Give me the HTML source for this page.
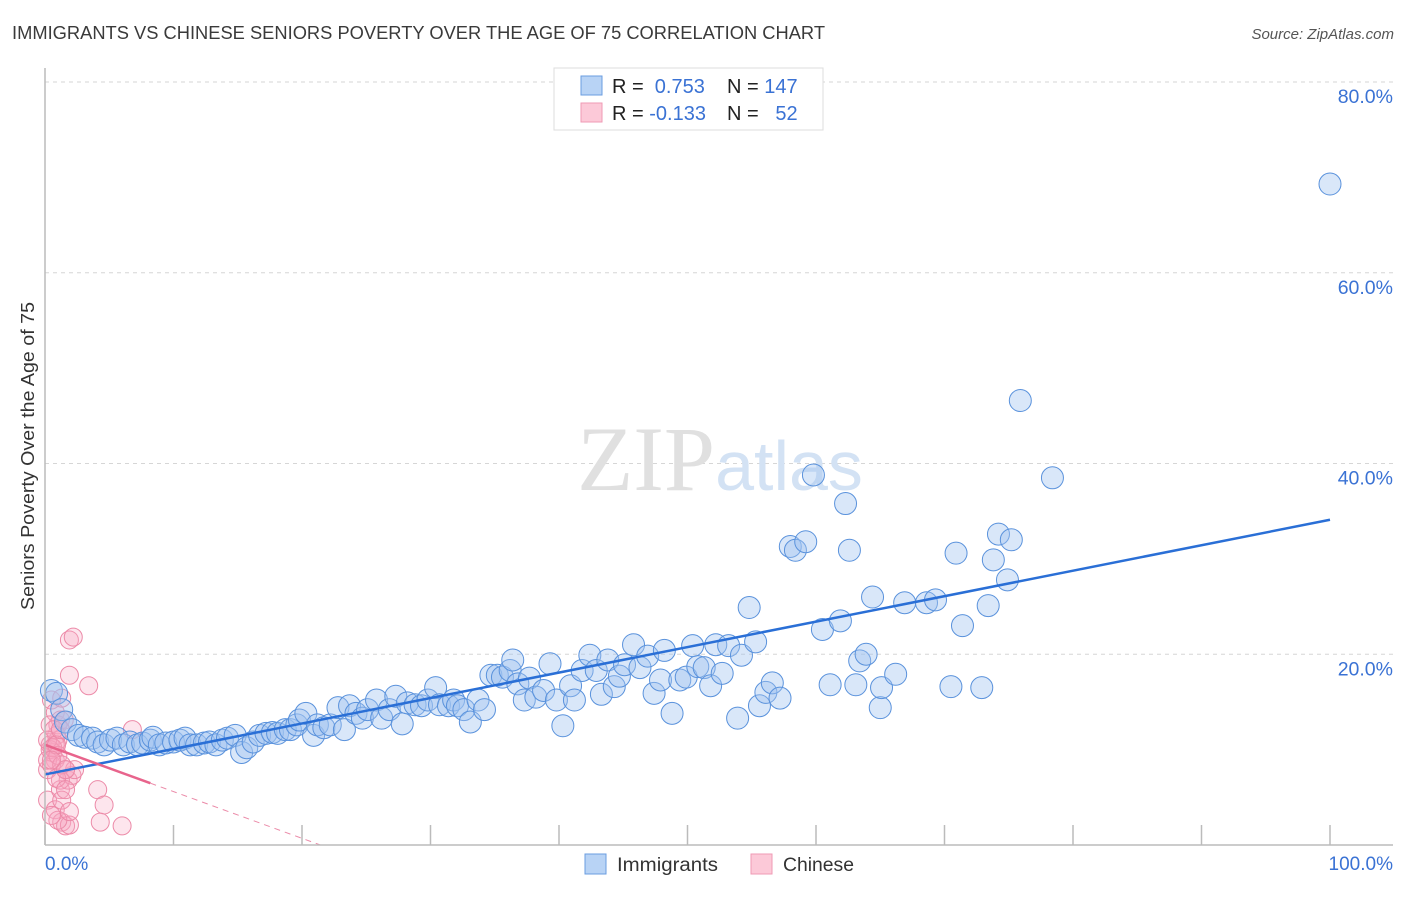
<!DOCTYPE html>
<html><head><meta charset="utf-8">
<style>
body{margin:0;background:#fff;font-family:"Liberation Sans",sans-serif;}
svg text{font-family:"Liberation Sans",sans-serif;}
</style></head>
<body>
<svg id="chart" width="1406" height="892" xmlns="http://www.w3.org/2000/svg">
<text x="12" y="39" font-size="18" fill="#3a3a3a" textLength="813" lengthAdjust="spacingAndGlyphs">IMMIGRANTS VS CHINESE SENIORS POVERTY OVER THE AGE OF 75 CORRELATION CHART</text>
<text x="1394" y="39" font-size="15" fill="#555" font-style="italic" text-anchor="end">Source: ZipAtlas.com</text>
<g id="grid"></g>
<text x="720" y="490" font-size="92" text-anchor="middle" fill="#e2e2e2" font-family="Liberation Serif"><tspan fill="#e0e0e0" font-family="Liberation Serif">ZIP</tspan><tspan fill="#d3e2f4" font-family="Liberation Sans" font-size="70">atlas</tspan></text>
<g id="pink"></g>
<g id="blue"></g>
<g id="lines"></g>
<g id="axes"></g>
<text transform="translate(34,456) rotate(-90)" font-size="18" fill="#333" text-anchor="middle" textLength="308" lengthAdjust="spacingAndGlyphs">Seniors Poverty Over the Age of 75</text>
<g>
<rect x="554" y="68" width="269" height="62" fill="#fff" stroke="#ddd"/>
<rect x="581" y="76" width="21" height="19" fill="#b8d3f5" stroke="#6a9de0"/>
<rect x="581" y="103" width="21" height="19" fill="#fcc9d8" stroke="#ef9ab4"/>
<text x="612" y="93" font-size="20" fill="#222">R = <tspan fill="#3a72d4">&#160;0.753</tspan></text>
<text x="727" y="93" font-size="20" fill="#222">N = <tspan fill="#3a72d4">147</tspan></text>
<text x="612" y="120" font-size="20" fill="#222">R = <tspan fill="#3a72d4">-0.133</tspan></text>
<text x="727" y="120" font-size="20" fill="#222">N = <tspan fill="#3a72d4">&#160;&#160;52</tspan></text>
</g>
<g>
<rect x="585" y="854" width="21" height="20" fill="#b8d3f5" stroke="#6a9de0"/>
<text x="617" y="871" font-size="19" fill="#333" textLength="101" lengthAdjust="spacingAndGlyphs">Immigrants</text>
<rect x="751" y="854" width="21" height="20" fill="#fcc9d8" stroke="#ef9ab4"/>
<text x="783" y="871" font-size="19" fill="#333" textLength="71" lengthAdjust="spacingAndGlyphs">Chinese</text>
</g>
</svg>
<script>
const blueX=[0.5,0.9,1.3,1.6,2.1,2.6,3.1,3.7,4.1,4.6,5.1,5.6,6.1,6.6,7.2,7.6,8.2,8.4,8.9,9.4,10.0,10.5,10.9,11.3,11.8,12.4,12.8,13.3,13.8,14.2,14.8,15.3,15.7,16.2,16.7,17.2,17.7,18.1,18.7,19.1,19.6,19.8,20.3,20.9,21.2,21.7,22.2,22.8,23.3,23.7,24.2,24.7,25.1,25.8,26.2,26.8,27.3,27.8,28.2,28.8,29.3,29.8,30.4,30.7,31.4,31.8,32.1,32.6,33.1,33.7,34.2,34.7,35.2,35.6,36.2,36.4,36.8,37.3,37.7,38.2,38.8,39.3,39.8,40.3,40.9,41.2,41.8,42.4,42.9,43.3,43.8,44.3,44.7,45.1,45.8,46.3,46.9,47.4,47.9,48.2,48.8,49.4,49.9,50.4,50.8,51.3,51.8,52.2,52.7,53.2,53.9,54.2,54.8,55.3,55.6,56.1,56.6,57.2,58.0,58.4,59.2,59.8,60.5,61.1,61.9,62.3,62.6,63.1,63.4,63.9,64.4,65.0,65.1,66.2,66.9,68.6,69.3,70.5,70.9,71.4,72.9,73.4,73.8,74.2,74.9,75.2,75.9,78.4,100];
const blueY=[16.2,15.9,14.2,12.9,12.1,11.5,11.3,11.2,10.8,10.5,11.0,11.2,10.5,10.8,10.5,10.7,11.0,11.3,10.5,10.7,10.8,11.0,11.2,10.5,10.5,10.7,10.8,10.5,11.0,11.2,11.5,9.7,10.2,10.8,11.5,11.7,11.8,11.7,12.1,12.1,12.6,13.1,13.8,11.5,12.6,12.3,12.6,14.4,12.1,14.6,13.8,13.3,14.2,15.2,13.3,14.2,15.6,12.7,14.9,14.7,14.6,15.2,16.5,14.7,14.6,15.2,14.6,14.2,12.9,15.2,14.2,17.8,17.8,17.6,18.3,19.4,16.9,15.2,17.5,15.5,16.2,19.0,15.2,12.5,16.7,15.2,18.3,19.9,18.3,15.8,19.4,16.6,17.7,18.9,21.0,18.6,19.8,15.9,17.3,20.4,13.8,17.3,17.6,20.9,18.7,18.6,16.7,21.0,18.0,20.9,13.3,19.9,24.9,21.3,14.6,16.0,17.0,15.4,31.3,30.9,31.8,38.8,22.6,16.8,23.5,35.8,30.9,16.8,19.3,20.0,26.0,14.4,16.5,17.9,25.4,25.4,25.7,16.6,30.6,23.0,16.5,25.1,29.9,32.6,27.8,32.0,46.6,38.5,69.3];
const pinkX=[0.5,0.8,1.0,0.4,0.6,0.8,0.2,1.0,1.3,1.2,0.9,1.5,1.9,2.2,1.9,3.4,0.2,0.8,1.2,1.3,1.6,1.8,2.1,1.6,1.2,0.8,0.4,0.5,0.9,1.3,1.9,2.3,4.1,4.6,4.3,6.0,6.8,0.2,0.4,0.7,0.2,0.6,1.0,1.3,1.6,1.0,0.5,1.6,0.9,1.2,0.5,1.9];
const pinkY=[15.2,13.9,11.0,10.5,9.7,8.9,7.9,12.6,15.4,13.1,11.5,13.1,21.5,21.8,17.8,16.7,4.7,3.7,5.8,2.4,2.0,6.8,7.3,7.9,6.8,10.5,10.0,8.4,7.0,4.7,2.1,7.9,5.8,4.2,2.4,2.0,12.1,8.9,12.6,12.1,11.0,10.2,9.4,8.4,5.8,2.6,3.1,7.9,10.5,12.1,8.9,3.5];
const blueTrend=[7.4,34.1];
const pinkTrend=[10.5,-0.49];
const pinkSolidEnd=8.2;
const yTicks=[20,40,60,80];
const yTickLabels=["20.0%","40.0%","60.0%","80.0%"];
const xTicks=[0,10,20,30,40,50,60,70,80,90,100];

const NS="http://www.w3.org/2000/svg";
const X0=45,X1=1330,Y0=845,YPER=9.5375;
const sx=v=>X0+(X1-X0)*v/100;
const sy=v=>Y0-v*YPER;
function mk(tag,attrs,parent){const e=document.createElementNS(NS,tag);for(const k in attrs)e.setAttribute(k,attrs[k]);parent.appendChild(e);return e;}
const grid=document.getElementById('grid'),axes=document.getElementById('axes');
yTicks.forEach((t,i)=>{
  const l=mk('line',{x1:X0,x2:1393,y1:sy(t),y2:sy(t),stroke:'#d6d6d6','stroke-dasharray':'4,4'},grid);
  
  
  const tx=mk('text',{x:1393,y:sy(t)+21,'font-size':19.5,fill:'#3a72d4','text-anchor':'end'},axes);
  tx.textContent=yTickLabels[i];
  
  
});
xTicks.forEach(t=>{
  const l=mk('line',{x1:sx(t),x2:sx(t),y1:Y0-20,y2:Y0,stroke:'#bbb','stroke-width':1.5},axes);
  
  
});
let a=mk('line',{x1:X0,x2:X0,y1:68,y2:Y0,stroke:'#bbb','stroke-width':1.5},axes);


a=mk('line',{x1:X0,x2:1393,y1:Y0,y2:Y0,stroke:'#bbb','stroke-width':1.5},axes);


let t=mk('text',{x:X0,y:870,'font-size':19,fill:'#3a72d4'},axes);t.textContent="0.0%";


t=mk('text',{x:1393,y:870,'font-size':19,fill:'#3a72d4','text-anchor':'end'},axes);t.textContent="100.0%";



const pg=document.getElementById('pink');
pinkX.forEach((x,i)=>{
  const c=mk('circle',{cx:sx(x),cy:sy(pinkY[i]),r:9,fill:'rgba(248,170,195,0.3)',stroke:'#ec8aa8','stroke-width':1},pg);
  
  
});
const bg=document.getElementById('blue');
blueX.forEach((x,i)=>{
  const c=mk('circle',{cx:sx(x),cy:sy(blueY[i]),r:11,fill:'rgba(160,196,240,0.4)',stroke:'#5a92dc','stroke-width':1},bg);
  
  
});
const lg=document.getElementById('lines');
let ln=mk('line',{x1:sx(0),y1:sy(blueTrend[0]),x2:sx(100),y2:sy(blueTrend[1]),stroke:'#2a6fd6','stroke-width':2.5},lg);


const pEnd=-pinkTrend[0]/pinkTrend[1];
ln=mk('line',{x1:sx(0),y1:sy(pinkTrend[0]),x2:sx(pinkSolidEnd),y2:sy(pinkTrend[0]+pinkTrend[1]*pinkSolidEnd),stroke:'#e8648c','stroke-width':2.5},lg);


ln=mk('line',{x1:sx(pinkSolidEnd),y1:sy(pinkTrend[0]+pinkTrend[1]*pinkSolidEnd),x2:sx(pEnd),y2:sy(0),stroke:'#eb8aa8','stroke-width':1,'stroke-dasharray':'6,5'},lg);


</script>
</body></html>
